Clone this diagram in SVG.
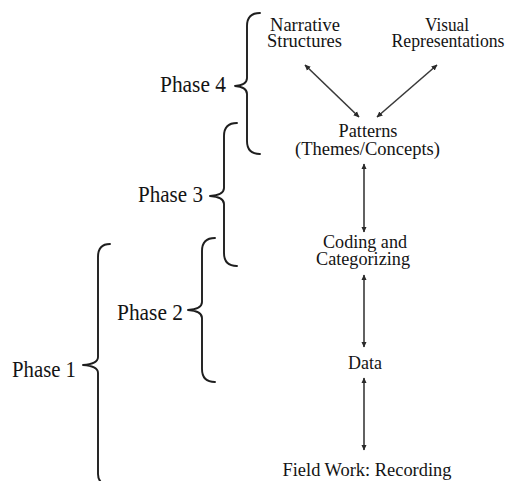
<svg xmlns="http://www.w3.org/2000/svg" width="508" height="481" viewBox="0 0 508 481">
<style>
.t{font-family:"Liberation Serif","Times New Roman",serif;fill:#141414;text-anchor:middle;}
.n{font-size:19px;}
.p{font-size:23px;text-anchor:start;}
.b{fill:none;stroke:#1e1e1e;stroke-width:1.9;stroke-linecap:round;stroke-linejoin:round;}
.a{stroke:#3a3a3a;stroke-width:1.6;fill:none;marker-start:url(#ah);marker-end:url(#ah);}
</style>
<defs>
<marker id="ah" viewBox="0 0 10 10" refX="9" refY="5" markerWidth="6" markerHeight="6" orient="auto-start-reverse" markerUnits="userSpaceOnUse">
<path d="M0,0.5 L10,5 L0,9.5 Z" fill="#2a2a2a"/>
</marker>
</defs>
<rect width="508" height="481" fill="#fff"/>
<g id="connectors">
<line class="a" x1="305" y1="65" x2="359" y2="117"/>
<line class="a" x1="437" y1="65" x2="377" y2="117"/>
<line class="a" x1="364" y1="164" x2="364" y2="232"/>
<line class="a" x1="364" y1="275" x2="364" y2="347"/>
<line class="a" x1="364" y1="378" x2="364" y2="450"/>
</g>
<g id="narrative">
<text class="t n" x="305" y="31" textLength="70" lengthAdjust="spacingAndGlyphs">Narrative</text>
<text class="t n" x="304.5" y="47" textLength="75" lengthAdjust="spacingAndGlyphs">Structures</text>
</g>
<g id="visual">
<text class="t n" x="447" y="31" textLength="44" lengthAdjust="spacingAndGlyphs">Visual</text>
<text class="t n" x="448" y="47" textLength="113" lengthAdjust="spacingAndGlyphs">Representations</text>
</g>
<g id="patterns">
<text class="t n" x="368" y="137" textLength="59" lengthAdjust="spacingAndGlyphs">Patterns</text>
<text class="t n" x="367.5" y="155" textLength="145" lengthAdjust="spacingAndGlyphs">(Themes/Concepts)</text>
</g>
<g id="coding">
<text class="t n" x="365" y="248" textLength="84" lengthAdjust="spacingAndGlyphs">Coding and</text>
<text class="t n" x="363" y="265" textLength="94" lengthAdjust="spacingAndGlyphs">Categorizing</text>
</g>
<g id="data">
<text class="t n" x="365" y="369" textLength="34" lengthAdjust="spacingAndGlyphs">Data</text>
</g>
<g id="fieldwork">
<text class="t n" x="367" y="476" textLength="169" lengthAdjust="spacingAndGlyphs">Field Work: Recording</text>
</g>
<g id="phase4">
<path class="b" d="M260,13 Q247,13 247,26 L247,78 Q247,85 235,86 Q247,87 247,94 L247,141 Q247,154 260,154"/>
<text class="t p" x="160" y="92" textLength="66" lengthAdjust="spacingAndGlyphs">Phase 4</text>
</g>
<g id="phase3">
<path class="b" d="M237,123 Q224,123 224,136 L224,188 Q224,195 210,196 Q224,197 224,204 L224,253 Q224,266 237,266"/>
<text class="t p" x="138" y="202" textLength="65" lengthAdjust="spacingAndGlyphs">Phase 3</text>
</g>
<g id="phase2">
<path class="b" d="M215,238 Q202,238 202,251 L202,302 Q202,309 188,310 Q202,311 202,318 L202,369 Q202,382 215,382"/>
<text class="t p" x="117" y="320" textLength="66" lengthAdjust="spacingAndGlyphs">Phase 2</text>
</g>
<g id="phase1">
<path class="b" d="M110,244 Q98,244 98,257 L98,357 Q98,364 83,365 Q98,366 98,373 L98,474 Q98,480 102,483"/>
<text class="t p" x="12" y="377" textLength="64" lengthAdjust="spacingAndGlyphs">Phase 1</text>
</g>
</svg>
